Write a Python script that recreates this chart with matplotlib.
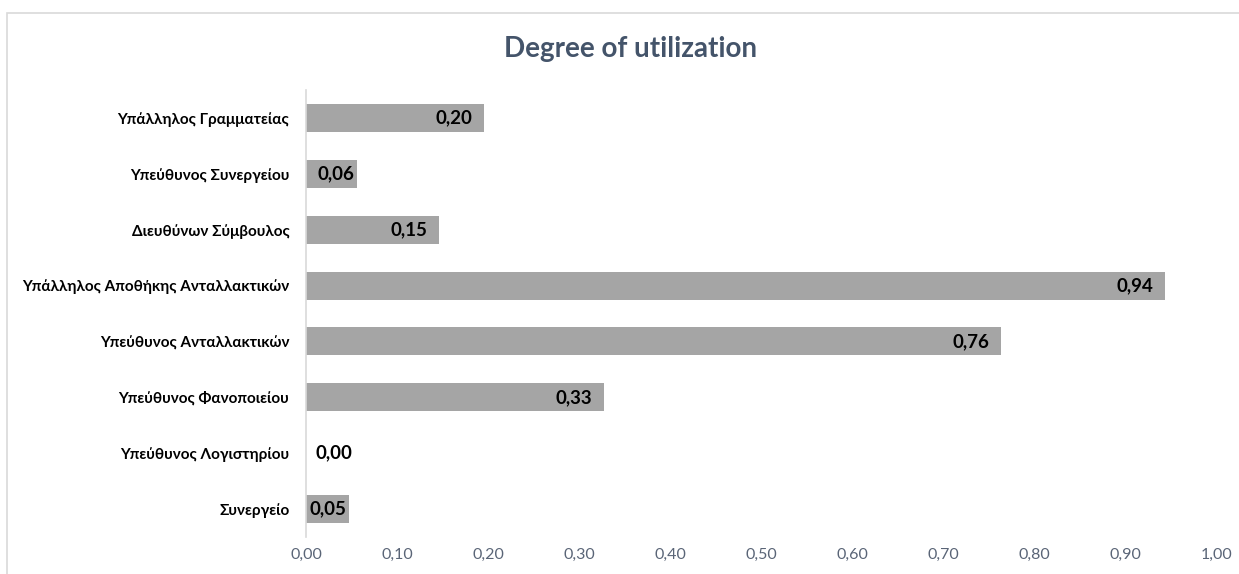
import matplotlib
matplotlib.use('Agg')
import matplotlib.pyplot as plt
from matplotlib.patches import Rectangle

plt.rcParams['font.family'] = ['Lato', 'DejaVu Sans']

ROLES = [
    'Συνεργείο',
    'Υπεύθυνος Λογιστηρίου',
    'Υπεύθυνος Φανοποιείου',
    'Υπεύθυνος Ανταλλακτικών',
    'Υπάλληλος Αποθήκης Ανταλλακτικών',
    'Διευθύνων Σύμβουλος',
    'Υπεύθυνος Συνεργείου',
    'Υπάλληλος Γραμματείας',
]
UTILIZATION = [0.047, 0.0, 0.327, 0.764, 0.944, 0.146, 0.056, 0.196]
X_TICKS = [0.0, 0.1, 0.2, 0.3, 0.4, 0.5, 0.6, 0.7, 0.8, 0.9, 1.0]

TITLE_COLOR = '#44546A'
TICK_COLOR = '#5A6577'
BAR_COLOR = '#A5A5A5'
LINE_COLOR = '#D9D9D9'


def fmt(v):
    return f'{v:.2f}'.replace('.', ',')


fig = plt.figure(figsize=(12.39, 5.74), dpi=100)
ax = fig.add_axes([0.2470, 0.0645, 0.7345, 0.7787])

# chart border, cut at the right and bottom edges
fig.patches.append(Rectangle((7 / 1239, -0.05), 1.1, 1.05 - 13 / 574,
                             transform=fig.transFigure, fill=False,
                             edgecolor=LINE_COLOR, linewidth=1.2))

y = list(range(len(ROLES)))
ax.barh(y, UTILIZATION, height=0.5, color=BAR_COLOR)

label_kw = dict(textcoords='offset points', va='center', fontsize=13.5,
                fontweight='bold', color='black')
for yi, v in zip(y, UTILIZATION):
    if v == 0:
        ax.annotate(fmt(v), (v, yi), xytext=(7, 0), ha='left', **label_kw)
    elif v < 0.1:
        ax.annotate(fmt(v), (v, yi), xytext=(-2, 0), ha='right', **label_kw)
    else:
        ax.annotate(fmt(v), (v, yi), xytext=(-8.5, 0), ha='right', **label_kw)

ax.set_xlim(0, 1.0)
ax.set_ylim(-0.5, len(ROLES) - 0.5)
ax.set_xticks(X_TICKS)
ax.set_xticklabels([fmt(t) for t in X_TICKS], color=TICK_COLOR, fontsize=11.5)
ax.set_yticks(y)
ax.set_yticklabels(ROLES, fontsize=11, fontweight='bold', color='black')
ax.tick_params(axis='both', length=0)
ax.tick_params(axis='x', pad=8)
ax.tick_params(axis='y', pad=12)

for side in ['top', 'right', 'bottom']:
    ax.spines[side].set_visible(False)
ax.spines['left'].set_color(LINE_COLOR)
ax.spines['left'].set_linewidth(1.2)

fig.text(630 / 1239, 1 - 49 / 574, 'Degree of utilization', ha='center', va='center',
         fontsize=20, fontweight='bold', color=TITLE_COLOR)

fig.savefig('out.png', dpi=100)
